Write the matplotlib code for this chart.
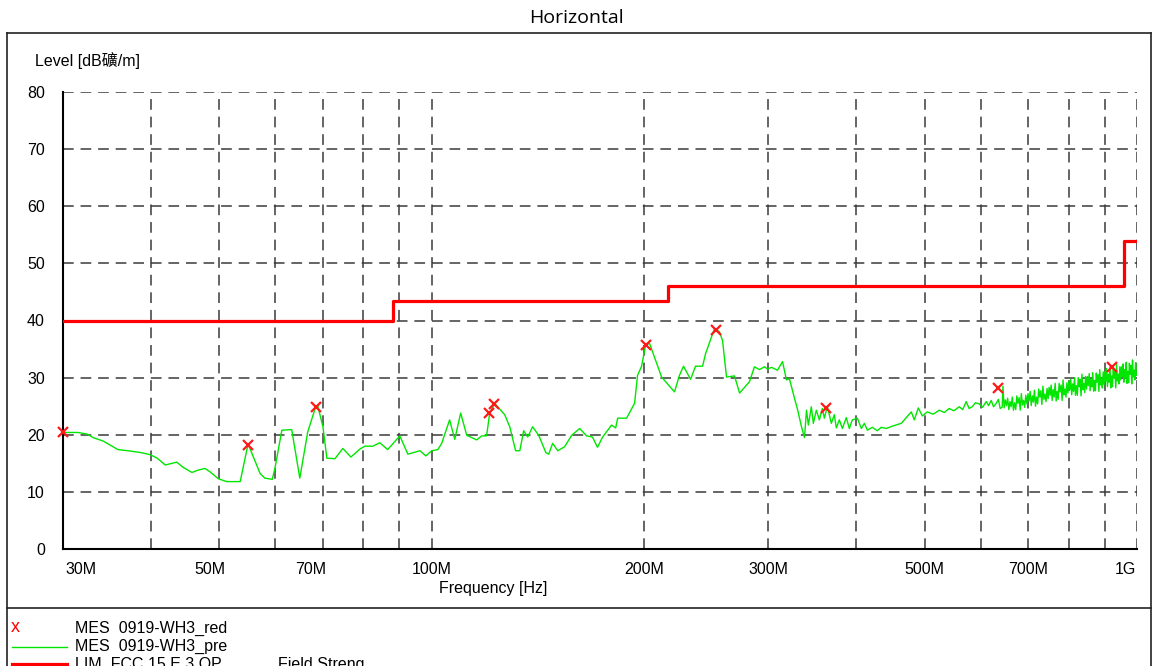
import numpy as np
import matplotlib
matplotlib.use("Agg")
import matplotlib.pyplot as plt
from matplotlib.lines import Line2D

# ---- data -------------------------------------------------------------
# preview scan (MHz, dBuV/m)
scan_freq = [30.0, 31.5, 32.5, 33.1, 34.2, 35.2, 35.9, 37.1, 38.6, 39.9,
             40.8, 41.9, 42.5, 43.5, 44.4, 45.7, 46.6, 47.7, 48.5, 49.8,
             51.2, 53.5, 54.9, 57.1, 58.0, 59.4, 59.9, 61.3, 63.3, 65.0,
             66.7, 68.3, 68.9, 70.1, 71.0, 72.9, 74.8, 76.8, 79.1, 80.4,
             82.5, 84.4, 86.6, 90.1, 92.5, 96.2, 98.1, 100.0, 102.0, 103.3,
             106.0, 107.8, 109.9, 112.1, 115.8, 117.7, 119.6, 120.8, 122.8, 126.9,
             129.0, 131.5, 133.3, 135.0, 136.8, 139.0, 141.8, 145.1, 146.5, 148.4,
             150.9, 154.3, 157.9, 162.1, 165.8, 169.0, 171.8, 174.7, 179.9, 182.3,
             183.5, 188.9, 193.9, 195.8, 198.4, 201.0, 203.6, 211.8, 220.9, 224.5,
             227.5, 232.8, 236.6, 242.1, 244.5, 251.7, 255.9, 258.4, 261.8, 268.7,
             273.2, 282.2, 286.8, 291.5, 296.3, 299.3, 303.2, 309.2, 314.3, 318.4,
             321.5, 326.8, 330.0, 334.4, 337.7, 339.9, 342.0, 345.3, 347.6, 351.0,
             354.5, 357.9, 360.3, 363.8, 368.6, 372.2, 374.7, 378.4, 382.1, 387.1,
             390.9, 394.8, 401.3, 406.6, 410.6, 414.6, 421.4, 428.3, 433.9, 441.1,
             449.8, 463.2, 472.4, 478.6, 483.3, 489.7, 496.1, 504.2, 514.0, 524.3,
             533.0, 541.7, 550.0, 559.7, 566.0, 572.6, 578.0, 583.9, 590.0, 597.4,
             604.0, 611.2, 616.0, 621.3, 626.0, 631.5, 636.0, 639.7, 643.9, 645.5,
             648.0, 650.5, 653.0, 655.5, 658.0, 660.5, 663.0, 665.5, 668.0, 670.5,
             673.0, 675.5, 678.0, 680.5, 683.0, 685.5, 688.0, 690.5, 693.0, 695.5,
             698.0, 700.5, 703.0, 705.5, 708.0, 710.5, 713.0, 715.5, 718.0, 720.5,
             723.0, 725.5, 728.0, 730.5, 733.0, 735.5, 738.0, 740.5, 743.0, 745.5,
             748.0, 750.5, 753.0, 755.5, 758.0, 760.5, 763.0, 765.5, 768.0, 770.5,
             773.0, 775.5, 778.0, 780.5, 783.0, 785.5, 788.0, 790.5, 793.0, 795.5,
             798.0, 800.5, 803.0, 805.5, 808.0, 810.5, 813.0, 815.5, 818.0, 820.5,
             823.0, 825.5, 828.0, 830.5, 833.0, 835.5, 838.0, 840.5, 843.0, 845.5,
             848.0, 850.5, 853.0, 855.5, 858.0, 860.5, 863.0, 865.5, 868.0, 870.5,
             873.0, 875.5, 878.0, 880.5, 883.0, 885.5, 888.0, 890.5, 893.0, 895.5,
             898.0, 900.5, 903.0, 905.5, 908.0, 910.5, 913.0, 915.5, 918.0, 920.5,
             923.0, 925.5, 928.0, 930.5, 933.0, 935.5, 938.0, 940.5, 943.0, 945.5,
             948.0, 950.5, 953.0, 955.5, 958.0, 960.5, 963.0, 965.5, 968.0, 970.5,
             973.0, 975.5, 978.0, 980.5, 983.0, 985.5, 988.0, 990.5, 993.0, 995.5,
             998.0]
scan_level = [20.4, 20.4, 20.1, 19.5, 18.9, 18.0, 17.4, 17.2, 16.9, 16.5,
              15.9, 14.7, 14.9, 15.2, 14.3, 13.4, 13.8, 14.1, 13.5, 12.3,
              11.8, 11.8, 18.4, 13.2, 12.4, 12.2, 14.0, 20.8, 20.9, 12.4,
              20.5, 24.5, 25.1, 21.4, 15.9, 15.8, 17.6, 16.1, 17.5, 18.0,
              18.0, 18.6, 17.4, 19.8, 16.6, 17.2, 16.3, 17.2, 17.4, 18.5,
              22.6, 19.2, 23.8, 19.9, 19.1, 19.8, 19.8, 23.7, 25.5, 23.5,
              21.4, 17.2, 17.2, 20.7, 19.6, 21.4, 19.9, 16.9, 16.6, 18.5,
              17.2, 17.9, 19.9, 21.1, 19.8, 19.6, 17.8, 19.6, 21.7, 21.2,
              22.9, 22.9, 25.5, 30.4, 32.0, 35.7, 36.0, 30.1, 27.5, 30.4,
              32.0, 29.7, 32.0, 32.0, 34.2, 38.6, 38.0, 36.5, 30.1, 30.3,
              27.3, 29.3, 31.9, 31.4, 31.9, 31.5, 31.8, 31.3, 32.8, 29.6,
              29.8, 26.4, 24.5, 21.4, 19.5, 24.3, 21.7, 24.9, 22.0, 24.3,
              22.6, 24.6, 22.9, 25.0, 22.0, 23.5, 21.2, 22.6, 21.1, 23.0,
              21.1, 22.6, 22.9, 21.1, 22.0, 20.8, 21.3, 20.7, 21.3, 21.1,
              21.5, 22.0, 23.2, 24.0, 22.6, 24.7, 23.3, 24.0, 23.6, 24.3,
              23.9, 24.6, 24.2, 24.9, 24.4, 25.8, 24.6, 24.9, 25.6, 25.4,
              24.8, 25.8, 25.1, 26.0, 24.9, 25.5, 26.2, 24.6, 24.8, 28.5,
              24.7, 26.1, 25.1, 26.4, 24.4, 25.8, 24.9, 26.6, 24.3, 25.6,
              24.4, 26.8, 25.5, 26.5, 24.3, 27.2, 25.2, 26.0, 24.8, 26.9,
              25.4, 27.2, 25.9, 27.6, 25.1, 26.8, 25.7, 27.8, 25.0, 26.6,
              25.4, 28.0, 26.6, 27.7, 25.3, 28.5, 26.2, 27.1, 25.8, 28.1,
              26.3, 28.3, 26.9, 28.7, 26.0, 27.9, 26.6, 29.0, 25.9, 27.6,
              26.2, 29.0, 27.5, 28.7, 26.0, 29.6, 27.0, 28.0, 26.6, 29.1,
              27.3, 29.3, 27.9, 29.7, 27.0, 28.9, 27.6, 30.0, 26.9, 28.6,
              26.9, 30.0, 28.4, 29.7, 26.8, 30.6, 27.9, 29.0, 27.4, 30.2,
              28.0, 30.2, 28.6, 30.7, 27.7, 29.7, 28.4, 30.9, 27.6, 29.5,
              27.7, 30.8, 29.2, 30.5, 27.6, 31.4, 28.7, 29.8, 28.2, 31.0,
              28.8, 31.1, 29.4, 31.6, 28.4, 30.6, 29.2, 31.9, 28.2, 30.3,
              28.4, 31.8, 29.9, 31.4, 28.2, 32.4, 29.4, 30.6, 28.9, 31.9,
              29.6, 31.9, 30.2, 32.4, 29.2, 31.4, 30.0, 32.7, 29.0, 31.1,
              29.1, 32.5, 30.6, 32.1, 28.9, 33.1, 30.1, 31.3, 29.6, 32.6,
              30.4]

# final (peak) measurement points
final_freq = [30.0, 54.9, 68.5, 120.4, 122.4, 201.0, 252.6, 362.6, 635.0, 922.0]
final_level = [20.5, 18.2, 24.9, 23.8, 25.4, 35.7, 38.4, 24.75, 28.25, 31.9]

# limit line FCC 15 E 3 QP (step edges, MHz / dBuV/m)
limit_freq = [30, 88, 88, 216, 216, 960, 960, 1000]
limit_level = [40, 40, 43.5, 43.5, 46, 46, 54, 54]

grid_freq = [40, 50, 60, 70, 80, 90, 100, 200, 300, 400, 500, 600, 700, 800, 900, 1000]
xtick_freq = [30, 50, 70, 100, 200, 300, 500, 700, 1000]
xtick_text = ["30M", "50M", "70M", "100M", "200M", "300M", "500M", "700M", "1G"]
yticks = [0, 10, 20, 30, 40, 50, 60, 70, 80]

# ---- figure -----------------------------------------------------------
W, H = 1152, 666
plt.rcParams['font.family'] = ['Liberation Sans', 'Noto Sans CJK SC', 'DejaVu Sans']
fig = plt.figure(figsize=(W / 100, H / 100), dpi=100)


def fx(px):
    return px / W


def fy(py):
    return 1 - py / H


ax = fig.add_axes([fx(63), fy(549), fx(1137) - fx(63), fy(92) - fy(549)])
ax.set_xscale('log')
ax.set_xlim(30, 1000)
ax.set_ylim(0, 80)

dash = (0, (7, 4.5))
for g in grid_freq:
    ax.axvline(g, color='#3a3a3a', lw=1.1, ls=dash, zorder=1)
for v in yticks[1:]:
    ax.axhline(v, color='#3a3a3a', lw=1.1, ls=dash, zorder=1)

ax.plot(scan_freq, scan_level, color='#00e600', lw=1.0, zorder=3)
ax.plot(limit_freq, limit_level, color='#ff0000', lw=2.3, zorder=4)
ax.plot(final_freq, final_level, ls='none', marker='x', ms=7, mew=1.6,
        color='#ff1a1a', zorder=5, clip_on=False)

for s in ['top', 'right']:
    ax.spines[s].set_visible(False)
ax.spines['left'].set_linewidth(1.5)
ax.spines['bottom'].set_linewidth(1.5)

ax.set_yticks(yticks)
ax.set_yticklabels([str(v) for v in yticks])
ax.tick_params(axis='y', length=0, pad=13, labelsize=11.5)
ax.set_xticks([])
ax.xaxis.set_minor_locator(matplotlib.ticker.NullLocator())

xoff = {"30M": 2, "50M": -10, "70M": -12, "1G": -1}
for f, t in zip(xtick_freq, xtick_text):
    ha = 'left' if t == "30M" else ('right' if t == "1G" else 'center')
    ax.annotate(t, xy=(f, 0), xycoords=('data', 'axes fraction'),
                xytext=(xoff.get(t, 0) * 0.72, -9), textcoords='offset points',
                ha=ha, va='top', fontsize=11.5)

fig.text(fx(493), fy(589), "Frequency [Hz]", ha='center', va='center', fontsize=11.5)
fig.text(fx(35), fy(60), "Level [dB礦/m]", ha='left', va='center', fontsize=11.5)
fig.text(0.5, fy(18), "Horizontal", ha='center', va='center', fontsize=14,
         family=['Open Sans', 'DejaVu Sans'])

# outer frame and legend separator
fig.add_artist(Line2D([fx(7), fx(7)], [fy(33), 0], color='#222222', lw=1.2))
fig.add_artist(Line2D([fx(7), fx(1151)], [fy(33), fy(33)], color='#222222', lw=1.2))
fig.add_artist(Line2D([fx(1151), fx(1151)], [fy(33), 0], color='#222222', lw=1.2))
fig.add_artist(Line2D([fx(7), fx(1151)], [fy(608), fy(608)], color='#222222', lw=1.2))

# legend block (bottom row is cut by the figure edge, as in the original)
fig.text(fx(11), fy(628), "x", color='#ff0000', ha='left', va='center', fontsize=13)
fig.add_artist(Line2D([fx(12), fx(67)], [fy(647), fy(647)], color='#00e600', lw=1.0))
fig.add_artist(Line2D([fx(12), fx(67)], [fy(664), fy(664)], color='#ff0000', lw=2.3))
fig.text(fx(75), fy(628), "MES  0919-WH3_red", ha='left', va='center', fontsize=11.5)
fig.text(fx(75), fy(646), "MES  0919-WH3_pre", ha='left', va='center', fontsize=11.5)
fig.text(fx(75), fy(665), "LIM  FCC 15 E 3 QP", ha='left', va='center', fontsize=11.5)
fig.text(fx(278), fy(665), "Field Streng", ha='left', va='center', fontsize=11.5)

fig.savefig('out.png', dpi=100)
